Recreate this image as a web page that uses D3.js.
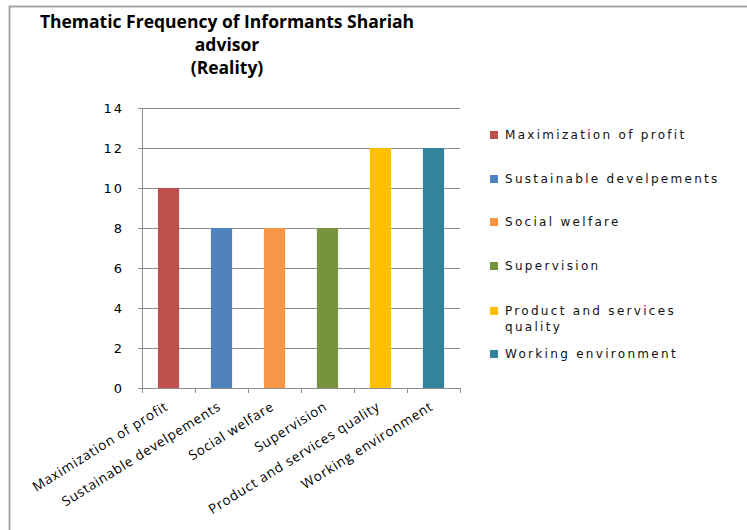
<!DOCTYPE html>
<html>
<head>
<meta charset="utf-8">
<script src="https://cdn.jsdelivr.net/npm/d3@7"></script>
<style>
  body { margin: 0; background: #fff; }
  svg { display: block; }
</style>
</head>
<body>
<script>
// chart data
var categories = ['Maximization of profit', 'Sustainable develpements', 'Social welfare',
  'Supervision', 'Product and services quality', 'Working environment'];
var values = [10, 8, 8, 8, 12, 12];
var colors = ['#C0504D', '#4F81BD', '#F79646', '#77933C', '#FFC000', '#31849B'];
var yTicks = [0, 2, 4, 6, 8, 10, 12, 14];
var legendLabels = [['Maximization of profit'], ['Sustainable develpements'], ['Social welfare'],
  ['Supervision'], ['Product and services', 'quality'], ['Working environment']];
var titleLines = ['Thematic Frequency of Informants Shariah', 'advisor', '(Reality)'];

var W = 747, H = 530;
var margin = { top: 108, left: 142, right: 287, bottom: 142 };
var width = W - margin.left - margin.right;
var height = H - margin.top - margin.bottom;

var svg = d3.select('body').append('svg')
  .attr('width', W)
  .attr('height', H);

// frame (only top and left edges visible)
svg.append('path')
  .attr('d', 'M9.5,530 V6.5 H747')
  .attr('fill', 'none')
  .attr('stroke', '#a6a6a6')
  .attr('stroke-width', 2);

// title
svg.append('text')
  .attr('x', 227)
  .attr('y', 28)
  .attr('text-anchor', 'middle')
  .style('font-family', 'Open Sans')
  .style('font-weight', 'bold')
  .style('font-size', '17.5px')
  .style('fill', '#000')
  .selectAll('tspan')
  .data(titleLines)
  .enter().append('tspan')
  .attr('x', 227)
  .attr('dy', function(d, i) { return i === 0 ? 0 : 23; })
  .text(function(d) { return d; });

var g = svg.append('g')
  .attr('transform', `translate(${margin.left}, ${margin.top})`);

var xScale = d3.scaleBand().domain(categories).range([0, width]).paddingInner(0.6).paddingOuter(0.3);
var yScale = d3.scaleLinear().domain([0, 14]).range([height, 0]);

// gridlines
g.append('g')
  .attr('class', 'grid')
  .selectAll('line')
  .data(yTicks)
  .enter().append('line')
  .attr('x1', -4)
  .attr('x2', width)
  .attr('y1', function(d) { return Math.round(yScale(d)) + 0.5; })
  .attr('y2', function(d) { return Math.round(yScale(d)) + 0.5; })
  .attr('stroke', '#8c8c8c')
  .attr('stroke-width', 1);

// y axis
var yAxis = g.append('g')
  .call(d3.axisLeft(yScale).tickValues(yTicks).tickSize(4).tickPadding(14));
yAxis.select('.domain').attr('stroke', '#8c8c8c');
yAxis.selectAll('.tick line').attr('stroke', '#8c8c8c');
yAxis.selectAll('text')
  .style('font-family', 'DejaVu Sans')
  .style('font-size', '13px')
  .style('letter-spacing', '2px')
  .style('fill', '#000');

// bars
g.selectAll('.bar')
  .data(values)
  .enter().append('rect')
  .attr('class', 'bar')
  .attr('x', function(d, i) { return xScale(categories[i]); })
  .attr('width', xScale.bandwidth())
  .attr('y', function(d) { return yScale(d); })
  .attr('height', function(d) { return height - yScale(d); })
  .attr('fill', function(d, i) { return colors[i]; });

// x axis with ticks between categories
var xAxis = g.append('g').attr('transform', `translate(0, ${height})`);
xAxis.append('line')
  .attr('x1', 0).attr('x2', width)
  .attr('y1', 0.5).attr('y2', 0.5)
  .attr('stroke', '#8c8c8c');
xAxis.selectAll('.xtick')
  .data(d3.range(categories.length + 1))
  .enter().append('line')
  .attr('class', 'xtick')
  .attr('x1', function(i) { return Math.round(i * width / categories.length) + 0.5; })
  .attr('x2', function(i) { return Math.round(i * width / categories.length) + 0.5; })
  .attr('y1', 0).attr('y2', 5)
  .attr('stroke', '#8c8c8c');

xAxis.selectAll('.xlabel')
  .data(categories)
  .enter().append('text')
  .attr('class', 'xlabel')
  .attr('text-anchor', 'end')
  .attr('transform', function(d) {
    return `translate(${xScale(d) + xScale.bandwidth() / 2 - 2}, 17) rotate(-32)`;
  })
  .attr('dy', '0.35em')
  .style('font-family', 'Open Sans')
  .style('font-size', '13.5px')
  .style('letter-spacing', '0.8px')
  .style('fill', '#000')
  .text(function(d) { return d; });

// legend
var legendY = [135, 179, 222, 266, 311, 354];
var legend = svg.append('g').attr('class', 'legend');
var items = legend.selectAll('g')
  .data(legendLabels)
  .enter().append('g')
  .attr('transform', function(d, i) { return `translate(490, ${legendY[i]})`; });
items.append('rect')
  .attr('x', 0).attr('y', -4)
  .attr('width', 8).attr('height', 8)
  .attr('fill', function(d, i) { return colors[i]; });
items.append('text')
  .attr('x', 15)
  .attr('y', 0)
  .style('font-family', 'DejaVu Sans')
  .style('font-size', '12px')
  .style('letter-spacing', '2.3px')
  .style('fill', '#111')
  .selectAll('tspan')
  .data(function(d) { return d; })
  .enter().append('tspan')
  .attr('x', 15)
  .attr('dy', function(d, i) { return i === 0 ? '0.35em' : '16px'; })
  .text(function(d) { return d; });
</script>
</body>
</html>
